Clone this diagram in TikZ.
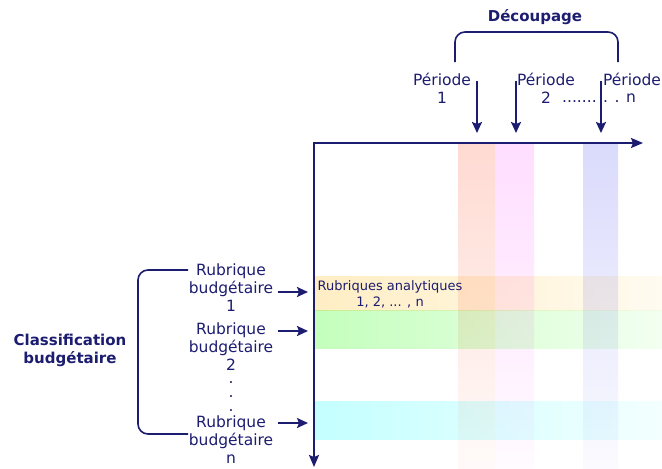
\documentclass[tikz,border=0pt]{standalone}
\usepackage{fontspec}
\setmainfont{DejaVu Sans}
\usetikzlibrary{positioning,arrows.meta}

\definecolor{navy}{RGB}{28,28,112}
\definecolor{colRed}{RGB}{255,218,210}
\definecolor{colPink}{RGB}{255,222,255}
\definecolor{colBlue}{RGB}{218,218,252}
\definecolor{rowYellow}{RGB}{255,238,196}
\definecolor{rowGreen}{RGB}{196,255,188}
\definecolor{rowCyan}{RGB}{196,255,255}

\begin{document}
\begin{tikzpicture}[x=1pt,y=-1pt,
  axis/.style={draw=navy, line width=2pt, {Stealth[length=12pt,width=10pt,inset=2pt]}-{Stealth[length=12pt,width=10pt,inset=2pt]}},
  pointer/.style={draw=navy, line width=2pt, -{Stealth[length=11pt,width=10pt,inset=2pt]}},
  brace/.style={draw=navy, line width=1.6pt, rounded corners=10pt},
  label/.style={text=navy, font=\fontsize{15.5}{18}\selectfont, align=center, inner sep=0pt},
  title/.style={label, font=\fontsize{15}{18}\selectfont\bfseries},
  small/.style={text=navy, font=\fontsize{13}{16}\selectfont, align=center, inner sep=0pt}]
\useasboundingbox (0,0) rectangle (662,469);

% Periods (vertical stripes)
\shade[top color=colRed, middle color=colRed!75!white, bottom color=colRed!12!white] (458,144) rectangle (495,469);
\shade[top color=colPink, middle color=colPink!75!white, bottom color=colPink!12!white] (495,144) rectangle (534,469);
\shade[top color=colBlue, middle color=colBlue!75!white, bottom color=colBlue!12!white] (583,144) rectangle (618,469);

% Budget headings (horizontal stripes)
\begin{scope}[blend mode=multiply]
  \shade[left color=rowYellow, right color=rowYellow!25!white] (315,276) rectangle (662,310);
  \shade[left color=rowGreen, right color=rowGreen!20!white] (315,310) rectangle (662,348);
  \shade[left color=rowCyan, right color=rowCyan!20!white] (315,401) rectangle (662,439);
\end{scope}

% Axes
\coordinate (origin) at (314,143);
\coordinate (xend) at (643,143);
\coordinate (yend) at (314,467);
\draw[axis] (yend) -- (origin) -- (xend);

\node[small] (analytic) at (390,294) {Rubriques analytiques\\1, 2, ... , n};

% Top: periods
\node[title] (cut) at (535,17) {Découpage};
\coordinate (cutl) at (455,62);
\coordinate (cutr) at (618,62);
\draw[brace] (cutl) -- (455,32) -- (618,32) -- (cutr);

\node[label] (p1) at (442,88) {Période\\1};
\node[label] (p2) at (546,88) {Période\\2};
\node[label] (pn) at (632,79) {Période};
\node[label, anchor=base west] (pdots) at (562,102) {.......};
\node[label, anchor=base west] (pnum) at (603,102) {. . n};

\coordinate (s1) at (477,81);  \coordinate (e1) at (477,133);
\coordinate (s2) at (516,81);  \coordinate (e2) at (516,133);
\coordinate (s3) at (601,81);  \coordinate (e3) at (601,133);
\draw[pointer] (s1) -- (e1);
\draw[pointer] (s2) -- (e2);
\draw[pointer] (s3) -- (e3);

% Left: budget classification
\node[title] (classif) at (70,350) {Classification\\budgétaire};
\coordinate (bt) at (188,270);
\coordinate (bb) at (188,434);
\draw[brace] (bt) -- (138,270) -- (138,434) -- (bb);

\node[label] (rb1) at (231,288) {Rubrique\\budgétaire\\1};
\node[label] (rb2) at (231,347) {Rubrique\\budgétaire\\2};
\node[label] (rbn) at (231,440) {Rubrique\\budgétaire\\n};
\foreach \y [count=\i] in {383,397,411}
  \node[label] (vdot\i) at (231,\y) {.};

\coordinate (a1) at (278,292);  \coordinate (b1) at (308,292);
\coordinate (a2) at (278,331);  \coordinate (b2) at (308,331);
\coordinate (a3) at (278,423);  \coordinate (b3) at (308,423);
\draw[pointer] (a1) -- (b1);
\draw[pointer] (a2) -- (b2);
\draw[pointer] (a3) -- (b3);
\end{tikzpicture}
\end{document}
